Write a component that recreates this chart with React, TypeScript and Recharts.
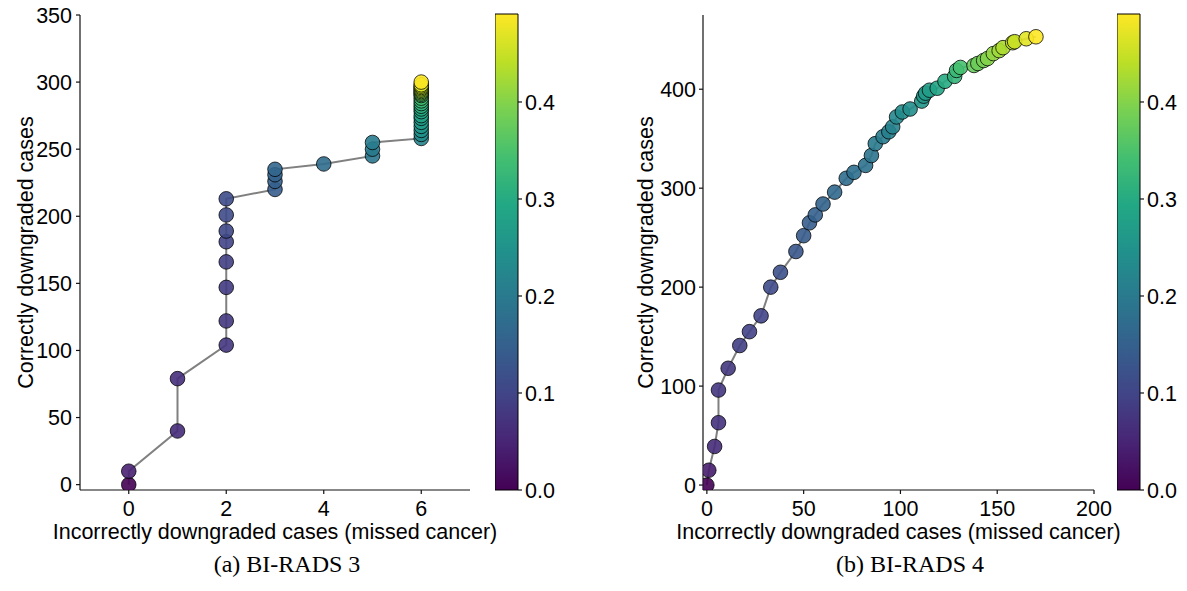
import React from 'react';
import { ScatterChart, Scatter, XAxis, YAxis, ComposedChart, ReferenceArea } from 'recharts';

const SANS = '"Liberation Sans", Arial, Helvetica, sans-serif';
const SERIF = '"Liberation Serif", "Times New Roman", serif';
const FS = 21.5;

// colour-scale maximum (top of the colorbars)
const CMAX = 0.4907;
const colorbarTicks = [0, 0.1, 0.2, 0.3, 0.4];

// (a) BI-RADS 3
const leftX = [0, 0, 1, 1, 2, 2, 2, 2, 2, 2, 2, 2, 3, 3, 3, 3, 4, 5, 5, 5,
  6, 6, 6, 6, 6, 6, 6, 6, 6, 6, 6, 6, 6, 6, 6, 6, 6, 6, 6, 6, 6, 6, 6];
const leftY = [0, 10, 40, 79, 104, 122, 147, 166, 181, 189, 201, 213, 220, 226, 231, 235, 239, 245, 250, 255,
  258, 261, 264, 267, 270, 273, 275, 278, 280, 282, 284, 286, 288, 290, 291, 292, 293, 294, 295, 296, 297, 298, 300];
const leftC = [0.0, 0.045, 0.06, 0.065, 0.075, 0.08, 0.085, 0.09, 0.1, 0.105, 0.11, 0.115, 0.145, 0.15, 0.155, 0.16, 0.175, 0.195, 0.2, 0.205,
  0.22, 0.235, 0.245, 0.255, 0.265, 0.27, 0.28, 0.29, 0.3, 0.31, 0.32, 0.33, 0.34, 0.35, 0.37, 0.39, 0.41, 0.42, 0.43, 0.44, 0.45, 0.46, 0.49];
const leftXTicks = [0, 2, 4, 6];
const leftYTicks = [0, 50, 100, 150, 200, 250, 300, 350];

// (b) BI-RADS 4
const rightX = [0, 1, 4, 6, 6, 11, 17, 22, 28, 33, 38, 46, 50, 53, 56, 60, 66, 72, 76, 82, 85, 87, 91, 94, 96, 98,
  101, 105, 111, 112, 113, 115, 119, 123, 128, 129, 131, 138, 140, 143, 145, 148, 151, 153, 158, 159, 165, 170];
const rightY = [0, 15, 39, 63, 96, 118, 141, 155, 171, 200, 215, 236, 252, 265, 273, 284, 296, 310, 316, 323, 333, 345, 352, 357, 362, 372,
  377, 380, 388, 393, 396, 399, 401, 408, 413, 419, 422, 424, 426, 429, 431, 436, 439, 442, 447, 448, 451, 453];
const rightC = [0.0, 0.04, 0.06, 0.07, 0.075, 0.08, 0.09, 0.095, 0.1, 0.11, 0.12, 0.13, 0.14, 0.145, 0.15, 0.155, 0.165, 0.175, 0.18, 0.185, 0.19, 0.2, 0.205, 0.21, 0.215, 0.225,
  0.235, 0.24, 0.255, 0.26, 0.265, 0.27, 0.285, 0.3, 0.32, 0.33, 0.345, 0.375, 0.38, 0.39, 0.4, 0.41, 0.42, 0.43, 0.445, 0.45, 0.47, 0.49];
const rightXTicks = [0, 50, 100, 150, 200];
const rightYTicks = [0, 100, 200, 300, 400];

const VIRIDIS = ['#440154', '#482475', '#414487', '#355f8d', '#2a788e', '#21918c', '#22a884', '#44bf70', '#7ad151', '#bddf26', '#fde725'];

function hexToRgb(h: string) {
  return [parseInt(h.slice(1, 3), 16), parseInt(h.slice(3, 5), 16), parseInt(h.slice(5, 7), 16)];
}
function viridis(t: number) {
  const tt = Math.max(0, Math.min(1, t));
  const p = tt * (VIRIDIS.length - 1);
  const i = Math.min(Math.floor(p), VIRIDIS.length - 2);
  const f = p - i;
  const a = hexToRgb(VIRIDIS[i]);
  const b = hexToRgb(VIRIDIS[i + 1]);
  const c = a.map((v, k) => Math.round(v + (b[k] - v) * f));
  return `rgb(${c[0]},${c[1]},${c[2]})`;
}

const build = (xs: number[], ys: number[], cs: number[]) => xs.map((x, i) => ({ x, y: ys[i], c: cs[i] }));
const leftData = build(leftX, leftY, leftC);
const rightData = build(rightX, rightY, rightC);

const Dot = (props: any) => {
  const { cx, cy, payload } = props;
  if (cx == null || cy == null) return null;
  return (
    <circle cx={cx} cy={cy} r={7.3} fill={viridis(payload.c / CMAX)} fillOpacity={0.9}
      stroke="#000" strokeOpacity={0.85} strokeWidth={0.9} />
  );
};

const tickStyle = { fill: '#000', fontSize: FS, fontFamily: SANS };
const axisLine = { stroke: '#111', strokeWidth: 1.2 };
const tickLine = { stroke: '#111', strokeWidth: 1.2 };

const YLabel = (props: any) => {
  const vb = props.viewBox || { x: 0, y: 15, width: 80, height: 475 };
  const x = vb.x + 32.5;
  const y = vb.y + vb.height / 2;
  return (
    <text x={x} y={y} transform={`rotate(-90 ${x} ${y})`} textAnchor="middle"
      fill="#000" fontSize={FS} fontFamily={SANS}>Correctly downgraded cases</text>
  );
};
const XLabel = (props: any) => {
  const vb = props.viewBox || { x: 80, y: 490, width: 390, height: 50 };
  return (
    <text x={vb.x + vb.width / 2} y={vb.y + 49} textAnchor="middle"
      fill="#000" fontSize={FS} fontFamily={SANS}>Incorrectly downgraded cases (missed cancer)</text>
  );
};

function Panel(p: { data: any[]; xDomain: number[]; yDomain: number[]; xTicks: number[]; yTicks: number[]; yWidth: number; width: number; right: number; tickMarginY: number }) {
  return (
    <ScatterChart width={p.width} height={560} margin={{ top: 15, right: p.right, left: 0, bottom: 20 }}>
      <XAxis type="number" dataKey="x" domain={p.xDomain} ticks={p.xTicks} allowDataOverflow
        height={50} tick={tickStyle} tickSize={4} tickMargin={7} axisLine={axisLine} tickLine={tickLine}
        label={<XLabel />} />
      <YAxis type="number" dataKey="y" domain={p.yDomain} ticks={p.yTicks} allowDataOverflow
        width={p.yWidth} tick={tickStyle} tickSize={4} tickMargin={p.tickMarginY} axisLine={axisLine} tickLine={tickLine}
        label={<YLabel />} />
      <Scatter data={p.data} isAnimationActive={false} line={{ stroke: '#808080', strokeWidth: 2 }}
        shape={<Dot />} />
    </ScatterChart>
  );
}

function Colorbar({ id }: { id: string }) {
  const stops = VIRIDIS.map((c, i) => (
    <stop key={i} offset={`${(i / (VIRIDIS.length - 1)) * 100}%`} stopColor={c} />
  ));
  return (
    <ComposedChart width={80} height={520} margin={{ top: 14, right: 0, left: 0, bottom: 30 }}
      data={[{ x: 0, y: 0 }, { x: 1, y: CMAX }]}>
      <defs>
        <linearGradient id={id} x1="0" y1="1" x2="0" y2="0">{stops}</linearGradient>
      </defs>
      <XAxis type="number" dataKey="x" domain={[0, 1]} hide />
      <YAxis type="number" orientation="right" domain={[0, CMAX]} ticks={colorbarTicks} allowDataOverflow
        width={57} tick={tickStyle} tickSize={4} tickMargin={3} axisLine={false} tickLine={tickLine}
        tickFormatter={(v: number) => v.toFixed(1)} />
      <ReferenceArea x1={0} x2={1} y1={0} y2={CMAX} fill={`url(#${id})`} fillOpacity={1}
        stroke="#000" strokeWidth={1} ifOverflow="extendDomain" />
    </ComposedChart>
  );
}

const capStyle: React.CSSProperties = {
  position: 'absolute', width: 300, textAlign: 'center', fontFamily: SERIF, fontSize: 24,
  lineHeight: '24px', color: '#000', whiteSpace: 'nowrap',
};

export default function App() {
  return (
    <div style={{ position: 'absolute', left: 0, top: 0, width: 1187, height: 591, background: '#fff', overflow: 'hidden' }}>
      <div style={{ position: 'absolute', left: 0, top: 0 }}>
        <Panel data={leftData} xDomain={[-1, 7]} yDomain={[-4, 350]} xTicks={leftXTicks} yTicks={leftYTicks}
          yWidth={80} width={540} right={70} tickMarginY={4} />
      </div>
      <div style={{ position: 'absolute', left: 495, top: 0 }}>
        <Colorbar id="vir-left" />
      </div>
      <div style={{ position: 'absolute', left: 620, top: 0 }}>
        <Panel data={rightData} xDomain={[-2, 200]} yDomain={[-5, 475]} xTicks={rightXTicks} yTicks={rightYTicks}
          yWidth={83} width={560} right={86} tickMarginY={3} />
      </div>
      <div style={{ position: 'absolute', left: 1117, top: 0 }}>
        <Colorbar id="vir-right" />
      </div>
      <div style={{ ...capStyle, left: 137, top: 552 }}>(a) BI-RADS 3</div>
      <div style={{ ...capStyle, left: 760, top: 552 }}>(b) BI-RADS 4</div>
    </div>
  );
}
